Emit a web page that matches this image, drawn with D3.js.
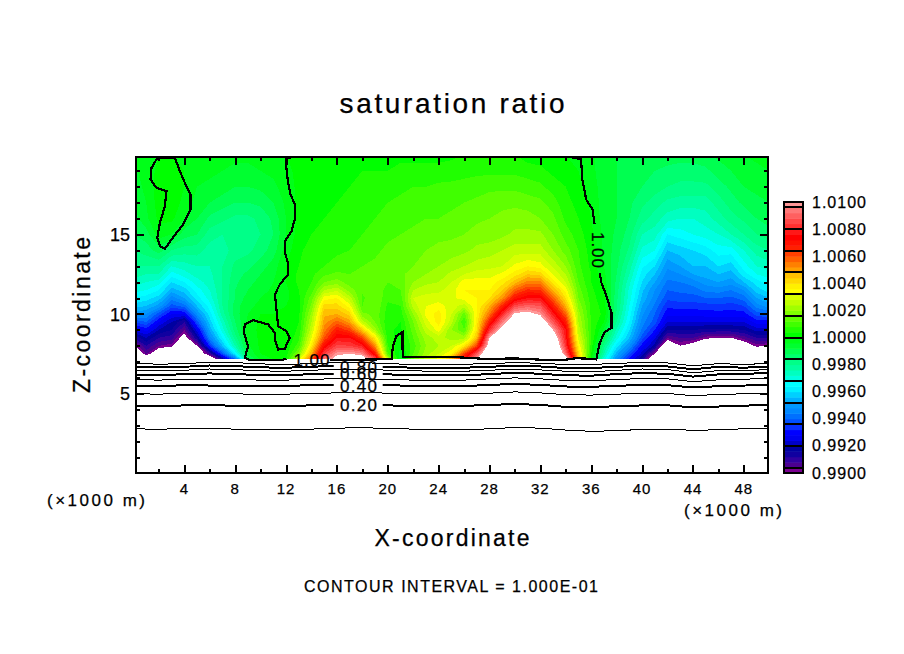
<!DOCTYPE html>
<html>
<head>
<meta charset="utf-8">
<script src="https://cdn.jsdelivr.net/npm/d3@7"></script>
<style>
html, body { margin: 0; padding: 0; background: white; }
svg { display: block; }
text { font-family: "Liberation Sans", sans-serif; fill: black; stroke: black; stroke-width: 0.25px; }
.fill path, .line, .tick line, .domain { shape-rendering: crispEdges; }
</style>
</head>
<body>
<svg width="904" height="654"></svg>
<script>
'use strict';
// heights of the rows in ratioColumns (x1000 m)
var ratioZ = [7.15, 7.5, 8, 8.5, 9, 9.5, 10, 10.5, 11, 11.5, 12, 12.5, 13, 14, 15, 16, 17, 18, 19, 20];
// one column per km from x = 0, values are (ratio - 1) * 1e4
var ratioColumns = [
  [-120,-120,-102,-88,-76,-64,-50,-42,-36,-30,-26,-22,-20,-16,-12,-10,-8,-6,-5,-4],
  [-115,-95,-88,-80,-70,-60,-52,-44,-38,-32,-28,-24,-20,-14,-10,-5,-4,-3,-2,-2],
  [-125,-110,-96,-88,-80,-72,-62,-50,-42,-36,-30,-24,-20,-10,-2,1,2,2,1,0],
  [-125,-115,-98,-90,-84,-80,-72,-62,-54,-46,-40,-34,-28,-16,-4,1,2,2,1,0],
  [-130,-125,-115,-105,-96,-88,-72,-58,-48,-42,-36,-30,-26,-18,-10,-4,-1,0,0,-2],
  [-125,-112,-100,-84,-74,-62,-52,-44,-38,-34,-30,-26,-24,-18,-12,-8,-6,-4,-3,-3],
  [-115,-92,-66,-54,-47,-42,-38,-34,-30,-28,-26,-25,-24,-22,-18,-13,-8,-5,-3,-3],
  [-85,-62,-44,-36,-30,-26,-22,-20,-20,-20,-20,-20,-20,-22,-20,-15,-10,-6,-4,-3],
  [-60,-36,-24,-18,-14,-12,-10,-10,-12,-12,-13,-14,-15,-18,-20,-17,-12,-8,-5,-3],
  [-14,-8,-5,-3,-2,-3,-4,-5,-6,-8,-9,-11,-13,-17,-19,-17,-12,-8,-5,-3],
  [-3,0,1,1,1,1,0,-3,-4,-6,-7,-8,-10,-14,-16,-15,-11,-7,-4,-3],
  [0,0,1,2,1,1,0,-1,-2,-3,-4,-5,-6,-10,-12,-11,-8,-5,-3,-2],
  [3,2,1,0,0,0,0,0,-1,-1,0,0,0,-2,-4,-4,-3,-2,-1,0],
  [30,18,10,7,5,4,3,3,3,4,5,5,4,3,2,1,1,1,1,1],
  [60,48,38,32,27,24,21,17,14,10,8,7,7,6,4,3,3,2,2,2],
  [92,84,72,60,54,50,47,42,34,24,16,11,8,6,5,4,3,2,2,2],
  [105,98,85,76,68,58,48,42,36,27,18,13,10,7,6,5,4,3,3,3],
  [112,100,84,76,62,50,42,34,26,18,14,12,10,8,7,6,5,4,3,3],
  [108,96,78,62,44,26,17,12,11,13,14,13,12,10,8,7,6,5,4,3],
  [88,70,52,38,22,16,15,16,16,16,15,14,13,11,10,8,7,5,4,3],
  [28,12,8,6,5,5,6,7,9,10,12,13,14,13,11,9,8,6,4,3],
  [-4,-2,1,2,3,4,6,8,10,12,14,15,15,14,12,10,9,7,5,3],
  [16,12,10,12,14,16,20,26,28,24,20,18,16,15,13,11,10,8,5,3],
  [26,22,20,22,26,30,33,32,30,26,23,20,18,16,14,12,10,8,5,3],
  [34,28,24,26,34,38,38,34,30,27,24,22,20,17,15,12,11,9,5,3],
  [48,36,28,22,20,26,28,30,31,30,28,25,22,18,15,13,11,9,6,3],
  [75,62,38,22,12,8,14,26,34,36,34,28,24,19,16,14,12,10,6,4],
  [100,88,62,46,40,38,36,36,36,36,34,30,26,21,18,15,13,10,7,4],
  [125,118,108,100,82,68,56,48,40,36,34,30,27,22,18,16,14,11,7,4],
  [130,130,128,118,106,94,80,66,52,44,38,33,28,24,19,17,15,11,7,4],
  [130,130,130,125,118,110,102,86,70,58,46,38,33,26,21,18,15,11,7,4],
  [130,130,130,128,125,115,104,90,76,65,54,44,36,26,21,18,14,10,6,2],
  [130,130,130,125,118,110,98,88,76,64,54,42,34,26,21,16,13,9,5,2],
  [130,125,120,112,100,88,78,68,58,48,38,32,27,20,16,13,10,6,3,1],
  [110,92,82,78,76,68,58,48,40,34,28,24,20,14,10,7,5,4,2,0],
  [48,42,36,30,26,24,22,19,16,14,12,10,9,8,6,4,3,1,0,-1],
  [0,4,6,8,8,8,7,7,6,5,4,4,3,2,1,0,-1,-2,-3,-3],
  [-30,-24,-18,-10,-5,0,3,2,1,0,-2,-3,-4,-5,-5,-6,-6,-6,-6,-6],
  [-52,-46,-38,-30,-25,-20,-17,-15,-15,-14,-13,-12,-11,-10,-9,-8,-8,-8,-8,-8],
  [-70,-62,-52,-44,-40,-36,-34,-32,-30,-29,-27,-24,-22,-17,-14,-12,-11,-10,-10,-9],
  [-85,-78,-70,-62,-57,-54,-51,-48,-45,-43,-40,-38,-35,-29,-24,-18,-15,-12,-10,-9],
  [-120,-100,-82,-75,-68,-62,-60,-57,-54,-52,-48,-44,-40,-32,-26,-22,-18,-14,-12,-10],
  [-125,-125,-115,-95,-84,-76,-71,-67,-63,-60,-57,-54,-51,-44,-36,-26,-21,-16,-13,-10],
  [-125,-120,-100,-92,-84,-76,-71,-66,-62,-59,-56,-52,-48,-42,-34,-28,-22,-17,-14,-10],
  [-130,-125,-105,-92,-84,-76,-71,-66,-62,-58,-54,-48,-44,-40,-32,-28,-22,-17,-14,-10],
  [-130,-130,-115,-98,-85,-76,-70,-66,-60,-55,-50,-46,-44,-38,-30,-26,-22,-17,-13,-9],
  [-130,-130,-115,-100,-85,-76,-70,-65,-60,-54,-48,-44,-40,-34,-28,-22,-18,-14,-10,-7],
  [-130,-130,-115,-100,-85,-76,-70,-66,-61,-56,-50,-46,-42,-34,-24,-18,-14,-11,-8,-5],
  [-130,-125,-108,-94,-84,-76,-70,-64,-58,-52,-44,-38,-34,-28,-20,-15,-11,-8,-6,-4],
  [-125,-115,-98,-88,-78,-70,-62,-54,-48,-42,-38,-32,-28,-22,-16,-12,-9,-7,-5,-3],
  [-125,-115,-100,-88,-78,-70,-60,-50,-44,-38,-34,-30,-26,-20,-14,-10,-8,-6,-4,-2]
];
// 50 shades from 0.99 up to 1.01, 0.0004 each
var shadeColors = [
  '#7a0090','#4c0090','#3000a0','#1000a0','#0000a0','#0000c8','#0000f0','#0000ff','#0830ff','#0050ff',
  '#0070ff','#0088ff','#0098ff','#00b0ff','#00d0ff','#00f0ff','#00ffff','#00ffe0','#00ffc0','#00ffa0',
  '#00ff88','#00ff70','#00ff50','#00ff30','#00ff18','#00ff00','#20ff00','#40ff00','#60ff00','#80ff00',
  '#a0ff00','#c0ff00','#d8ff00','#ffff00','#fff000','#ffd800','#ffc000','#ffa000','#ff8000','#ff6000',
  '#ff4000','#ff2000','#ff1000','#ff0000','#ff1818','#ff3030','#ff4848','#ff6060','#ff7878','#ff9898'
];
var colorbarTicks = [0.99, 0.992, 0.994, 0.996, 0.998, 1, 1.002, 1.004, 1.006, 1.008, 1.01];
var xMajorTicks = [4, 8, 12, 16, 20, 24, 28, 32, 36, 40, 44, 48];
var xMinorTicks = [2, 6, 10, 14, 18, 22, 26, 30, 34, 38, 42, 46];
var zMajorTicks = [5, 10, 15];
var zMinorTicks = [1, 2, 3, 4, 6, 7, 8, 9, 11, 12, 13, 14, 16, 17, 18, 19];

// contour heights at every 2 km from x = 0
var lineX = [0, 2, 4, 6, 8, 10, 12, 14, 16, 18, 20, 22, 24, 26, 28, 30, 32, 34, 36, 38, 40, 42, 44, 46, 48, 50];
var level01 = [2.78,2.75,2.8,2.8,2.76,2.72,2.72,2.76,2.82,2.85,2.8,2.76,2.74,2.72,2.78,2.86,2.82,2.7,2.62,2.66,2.74,2.76,2.68,2.72,2.78,2.8];
var level02 = [4.22,4.2,4.25,4.25,4.24,4.2,4.22,4.25,4.3,4.3,4.25,4.22,4.22,4.22,4.28,4.34,4.28,4.16,4.14,4.2,4.25,4.26,4.12,4.18,4.24,4.26];
var level03 = [4.98,4.96,5.0,5.0,4.98,4.94,4.96,5.0,5.04,5.06,5.02,4.98,4.98,4.98,5.02,5.1,5.04,4.92,4.9,4.96,5.0,5.0,4.86,4.94,4.98,5.0];
var level04 = [5.5,5.46,5.52,5.5,5.48,5.46,5.48,5.52,5.54,5.56,5.52,5.48,5.46,5.46,5.54,5.6,5.54,5.44,5.42,5.48,5.54,5.52,5.38,5.46,5.5,5.52];
var level05 = [5.88,5.84,5.9,5.9,5.88,5.84,5.84,5.9,5.92,5.92,5.88,5.84,5.82,5.84,5.92,5.98,5.92,5.82,5.8,5.88,5.94,5.92,5.74,5.86,5.9,5.94];
var level06 = [6.2,6.14,6.22,6.26,6.22,6.16,6.14,6.22,6.26,6.28,6.2,6.16,6.14,6.14,6.22,6.3,6.24,6.14,6.12,6.22,6.28,6.24,6.06,6.2,6.24,6.28];
var level07 = [6.46,6.42,6.46,6.54,6.5,6.42,6.4,6.46,6.52,6.54,6.46,6.42,6.4,6.4,6.46,6.54,6.48,6.4,6.36,6.46,6.54,6.5,6.3,6.44,6.44,6.5];
var level08 = [6.7,6.64,6.68,6.76,6.72,6.64,6.62,6.68,6.74,6.74,6.68,6.62,6.6,6.62,6.68,6.74,6.7,6.6,6.6,6.68,6.74,6.7,6.52,6.68,6.62,6.7];
var level09 = [6.9,6.84,6.88,6.96,6.94,6.86,6.82,6.88,6.94,6.94,6.88,6.82,6.82,6.84,6.88,6.94,6.9,6.82,6.82,6.9,6.94,6.92,6.74,6.88,6.82,6.9];

// the 1.00 contour, [x, z] pieces, broken where the labels sit
var unityBlob = [[3.25,19.82],[3.65,18.98],[4.04,18.25],[4.49,17.52],[4.49,16.57],[3.91,15.63],[2.99,14.69],[2.47,14.09],[2.08,14.27],[1.87,14.79],[2.08,15.73],[2.47,16.78],[2.6,17.72],[1.81,17.93],[1.34,18.46],[1.42,19.19],[1.81,19.72],[2.08,19.84],[3.25,19.82]];
var unityLeft = [[12.95,19.88],[12.03,19.82],[11.98,19.51],[12.16,18.25],[12.35,17.52],[12.69,16.89],[12.69,15.95],[12.43,15.21],[11.9,14.58],[11.9,13.85],[12.16,13.22],[12.16,12.48],[11.51,11.86],[11.12,11.23],[11.25,10.28],[11.38,9.23],[12.03,8.92],[12.29,8.5],[11.9,7.81],[11.38,7.77],[11.12,8.4],[11.12,8.82],[10.59,9.34],[9.41,9.61],[8.76,9.34],[8.68,8.82],[9.02,7.98],[8.76,7.24],[9.15,7.1],[11.51,7.09],[12.03,7.18]];
var unityBase = [[15.44,7.1],[19.1,7.14],[20.3,7.18],[20.4,7.98],[20.68,8.61],[21.15,8.86],[21.15,7.98],[21.2,7.31],[23.3,7.31],[24.87,7.31],[27.5,7.18],[30.1,7.2],[32.7,7.1],[33.8,7.1],[34.8,7.22],[35.9,7.18],[36.4,7.14],[36.67,8.19],[37.06,8.86],[37.6,9.13],[37.6,10.07],[37.2,11.12],[36.8,11.96],[36.67,12.59]];
var unityRight = [[36.27,15.63],[36.1,16.57],[35.6,17.2],[35.3,18.46],[35.2,19.72],[34.3,19.88]];

var margin = { left: 136, right: 768, top: 157, bottom: 473 };
var x = d3.scaleLinear().domain([0.2, 49.9]).range([margin.left, margin.right]);
var z = d3.scaleLinear().domain([0, 19.87]).range([margin.bottom, margin.top]);
var rowZ = d3.scaleLinear().domain(ratioZ.map((d, i) => i)).range(ratioZ).clamp(true);
var bar = d3.scaleLinear().domain([0.99, 1.01]).range([473, 202]);

var svg = d3.select('svg');
svg.append('defs').append('clipPath').attr('id', 'plot').append('rect')
  .attr('x', margin.left).attr('y', margin.top)
  .attr('width', margin.right - margin.left).attr('height', margin.bottom - margin.top);

function label(text, px, py, size, width, rotate) {
  var t = svg.append('text')
    .attr('text-anchor', 'middle')
    .attr('font-size', size)
    .attr('textLength', width)
    .attr('transform', `translate(${px},${py})` + (rotate ? ` rotate(${rotate})` : ''))
    .text(text);
  return t;
}

// filled field
var nx = ratioColumns.length, ny = ratioZ.length;
var values = [];
ratioZ.forEach((d, j) => ratioColumns.forEach(col => values.push(col[j])));
var thresholds = shadeColors.map((d, i) => -100 + 4 * i).concat([100]);
var bands = d3.contours().size([nx, ny]).thresholds(thresholds)(values);
var fieldPath = d3.geoPath(d3.geoTransform({
  point: function(cx, cy) {
    this.stream.point(x(cx - 0.5), z(rowZ(cy - 0.5)));
  }
}));
svg.append('g').attr('class', 'fill').attr('clip-path', 'url(#plot)')
  .selectAll('path').data(bands).join('path')
    .attr('d', fieldPath)
    .attr('fill', (d, i) => shadeColors[i] || 'white');

// contour lines
var levelLine = d3.line().x((d, i) => x(lineX[i])).y(d => z(d));
var pointLine = d3.line().x(d => x(d[0])).y(d => z(d[1]));
var lineGroup = svg.append('g').attr('clip-path', 'url(#plot)').attr('fill', 'none').attr('stroke', 'black');
function drawLevels(levels, width) {
  lineGroup.append('g').selectAll('path').data(levels).join('path')
    .attr('class', 'line').attr('stroke-width', width).attr('d', levelLine);
}
drawLevels([level02, level04, level06, level08], 2);
lineGroup.append('g').selectAll('path').data([unityBlob, unityLeft, unityBase, unityRight]).join('path')
  .attr('class', 'line').attr('stroke-width', 2.2).attr('d', pointLine);

// white gaps in the labelled lines
var levelLabels = [['0.20', level02, 405], ['0.40', level04, 386], ['0.60', level06, 374], ['0.80', level08, 367]];
lineGroup.append('g').selectAll('rect').data(levelLabels).join('rect')
  .attr('x', x(15.75)).attr('width', x(19.6) - x(15.75))
  .attr('y', d => d[2] - 3).attr('height', 6)
  .attr('fill', 'white').attr('stroke', 'none');
drawLevels([level01, level03, level05, level07, level09], 1);

levelLabels.forEach(d => label(d[0], x(17.7), d[2] + 6, 17, 37));
label('1.00', x(14), 366, 17, 36);
label('1.00', 592, 250, 17, 36, 90);

// frame and ticks
function ticks(axis, pos, values, size) {
  svg.append('g').attr('transform', pos)
    .call(axis.tickValues(values).tickSize(size).tickSizeOuter(0).tickPadding(4).tickFormat(''))
    .call(g => g.select('.domain').remove())
    .selectAll('line').attr('stroke-width', 2);
}
[[d3.axisBottom, margin.bottom, 1], [d3.axisTop, margin.top, -1]].forEach(d => {
  ticks(d[0](x), `translate(0,${d[1]})`, xMajorTicks, 8 * -1);
  ticks(d[0](x), `translate(0,${d[1]})`, xMinorTicks, 4 * -1);
});
[[d3.axisLeft, margin.left], [d3.axisRight, margin.right]].forEach(d => {
  ticks(d[0](z), `translate(${d[1]},0)`, zMajorTicks, 8 * -1);
  ticks(d[0](z), `translate(${d[1]},0)`, zMinorTicks, 4 * -1);
});
svg.append('rect')
  .attr('x', margin.left).attr('y', margin.top)
  .attr('width', margin.right - margin.left).attr('height', margin.bottom - margin.top)
  .attr('fill', 'none').attr('stroke', 'black').attr('stroke-width', 2);

// tick labels
svg.append('g').selectAll('text').data(xMajorTicks).join('text')
  .attr('x', d => x(d)).attr('y', 494)
  .attr('text-anchor', 'middle').attr('font-size', 15).attr('letter-spacing', 1)
  .text(d => d);
svg.append('g').selectAll('text').data(zMajorTicks).join('text')
  .attr('x', 130).attr('y', d => z(d) + 7)
  .attr('text-anchor', 'end').attr('font-size', 18)
  .text(d => d);

// colour bar
var shadeH = bar(0.99) - bar(0.9904);
svg.append('g').attr('class', 'fill').selectAll('rect').data(shadeColors).join('rect')
  .attr('x', 784).attr('width', 19)
  .attr('y', (d, i) => bar(0.99 + (i + 1) * 0.0004)).attr('height', shadeH + 0.5)
  .attr('fill', d => d);
svg.append('g').selectAll('line').data(shadeColors.slice(0, 13)).join('line')
  .attr('class', 'line').attr('stroke', 'black').attr('stroke-width', 2)
  .attr('x1', 784).attr('x2', 803)
  .attr('y1', (d, i) => bar(0.9904 + i * 0.0016)).attr('y2', (d, i) => bar(0.9904 + i * 0.0016));
svg.append('rect').attr('x', 784).attr('y', 202).attr('width', 19).attr('height', 271)
  .attr('fill', 'none').attr('stroke', 'black').attr('stroke-width', 2);
svg.append('g').selectAll('text').data(colorbarTicks).join('text')
  .attr('x', 812).attr('y', d => bar(d) + 5.5)
  .attr('font-size', 16).attr('textLength', 54)
  .text(d => d3.format('.4f')(d));

// titles
label('saturation ratio', 452, 113, 28, 225);
label('X-coordinate', 452, 546, 23, 155);
label('Z-coordinate', 90, 315, 23, 156, -90);
label('(\u00d71000 m)', 96, 506, 17, 98);
label('(\u00d71000 m)', 733, 516, 17, 98);
label('CONTOUR INTERVAL = 1.000E-01', 451, 592, 16, 294);
</script>
</body>
</html>
